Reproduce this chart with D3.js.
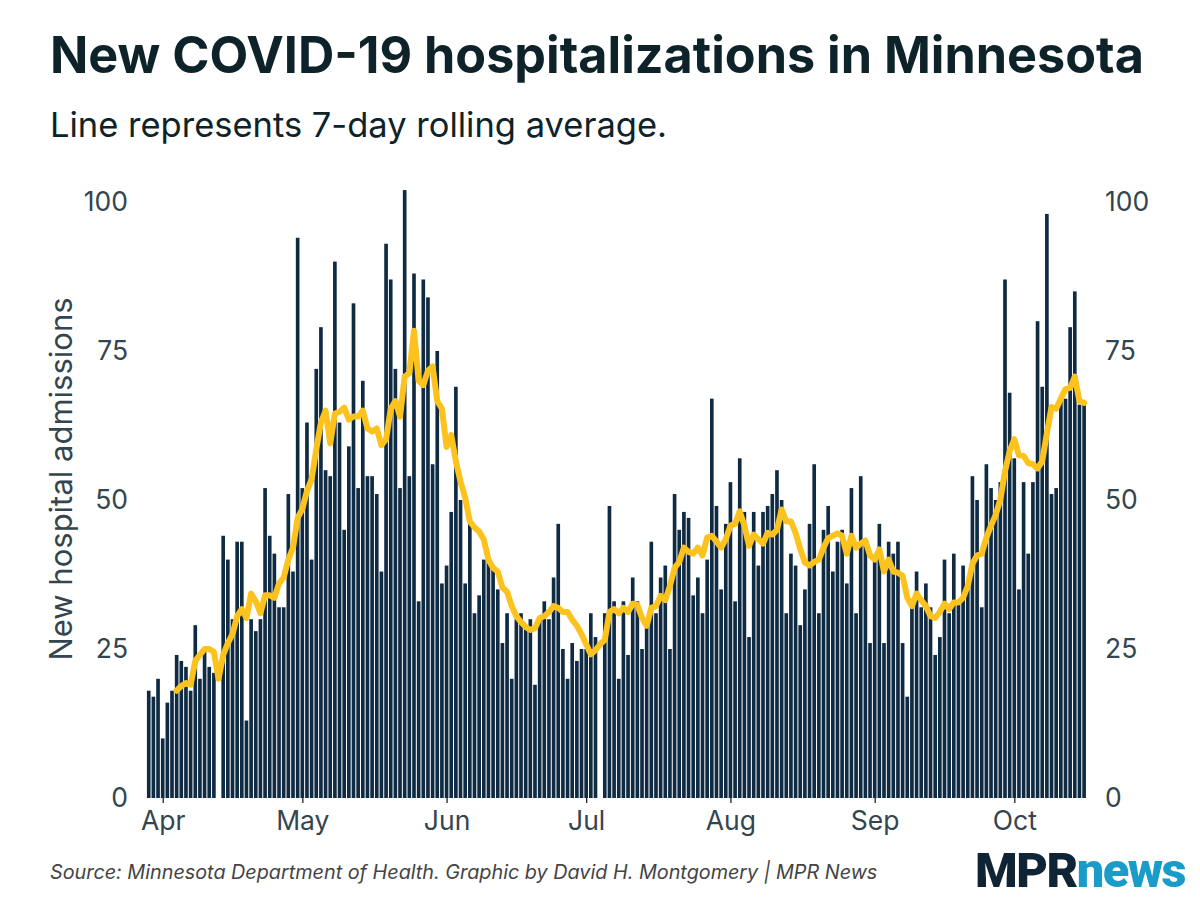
<!DOCTYPE html>
<html><head><meta charset="utf-8">
<script src="https://cdn.jsdelivr.net/npm/d3@7"></script>
<style>
body{margin:0;background:#fff;}
svg{display:block;}
</style></head><body>
<svg id="chart" width="1200" height="900"></svg>
<script>
// ---- data ----
const startDate = "2020-03-29";
const admissions = [
 18,17,20,10,16,18,24,23,22,18,29,20,25,22,21,null,
 44,40,30,43,43,13,30,28,30,52,44,41,32,32,51,38,
 94,52,63,40,72,79,55,54,90,63,45,59,83,52,70,54,
 54,51,38,93,87,72,52,102,54,88,33,87,84,56,75,36,
 39,48,69,50,36,46,31,34,40,40,39,35,26,31,20,30,
 31,29,30,19,30,33,30,37,46,25,20,26,23,25,25,31,
 27,null,31,49,33,20,33,24,37,33,25,29,43,31,37,39,
 25,51,45,48,47,34,37,31,40,67,49,35,46,53,33,57,
 48,27,48,39,48,49,51,55,50,31,41,39,29,35,46,56,
 31,45,49,38,43,45,36,52,31,54,43,26,40,46,26,43,
 41,43,26,17,32,38,32,36,32,24,27,40,31,41,33,39,
 35,54,50,32,56,52,50,53,87,68,57,35,53,41,53,80,
 69,98,51,52,67,67,79,85,66,66
];
const rollingAvg = [
 null,null,null,null,null,null,18,18.8,19.3,19,23,24,25,25,24.5,20,
 24,26,27.5,30.5,31.7,30.2,34.3,33,31,34,34,33.6,36,37,40,42,
 47,48.5,51.5,53.5,58.5,63,65,59.5,64.5,64.8,65.5,63.5,64,64,65,62,
 61.5,62,59.2,60.2,65.3,66.6,64,70.7,71.3,78.4,70,69.3,71.7,72.4,66.6,65.3,
 58.9,60.9,56.5,53.1,50.4,46.4,45.4,44.7,43.4,40,38.6,38,35.3,34.6,32.2,30.5,
 29.5,28.7,28.2,28.5,30.2,30.5,31.2,32.2,31.9,31.2,31.2,29.9,28.9,27.5,25.8,24.1,
 24.8,25.8,26.5,31.2,31.7,31,31.9,31.2,32.6,32.4,30.2,28.9,31.9,32.2,33.9,33.2,
 35.6,38.6,39.6,42,41.3,41,42,40.7,43.7,44,43,42,43.4,45.7,46,48.1,
 45.7,42.3,44.2,43.4,42.7,44.5,44.2,45,48.4,46.4,46.4,44.5,41.8,39.5,39,39.6,
 40,42,43.6,44,44.4,44,41,44,42,42.7,43.2,40.7,40,41.7,38,40,
 38,37.8,37.3,33.6,32.2,34.3,33.2,32.2,30.5,30.2,31.2,32.6,31.7,32.8,32.8,33.6,
 35.6,39.3,40.7,41,43.7,45.7,47.5,50.1,54.8,58.2,60.2,57.5,57.4,56.2,56,55.3,
 56.5,61.2,65.6,65.3,67,68.6,68.8,70.7,66.6,66.3
];
const monthTicks = ["2020-04-01","2020-05-01","2020-06-01","2020-07-01","2020-08-01","2020-09-01","2020-10-01"];
const monthLabels = ["Apr","May","Jun","Jul","Aug","Sep","Oct"];
const yTicks = [0,25,50,75,100];

const titleText = "New COVID-19 hospitalizations in Minnesota";
const subtitleText = "Line represents 7-day rolling average.";
const yAxisTitle = "New hospital admissions";
const sourceText = "Source: Minnesota Department of Health. Graphic by David H. Montgomery | MPR News";

// ---- build ----
const parse = d3.utcParse("%Y-%m-%d");
const t0 = parse(startDate);
const rows = admissions.map((v,i)=>({date:d3.utcDay.offset(t0,i), value:v, avg:rollingAvg[i]}));

const svg = d3.select("#chart");
const x = d3.scaleUtc()
  .domain([parse("2020-04-01"), parse("2020-10-01")])
  .range([162.7, 1014.3]);
const dayW = x(parse("2020-04-02")) - x(parse("2020-04-01"));
const y = d3.scaleLinear().domain([0,100]).range([798,202]);

const font = "Inter, 'Noto Sans', sans-serif";
const axisColor = "#33454f";

// title
svg.append("text").attr("x",50).attr("y",73)
  .attr("font-family",font).attr("font-weight",700).attr("font-size",50.3)
  .attr("fill","#0d2329").text(titleText);
svg.append("text").attr("x",50).attr("y",137)
  .attr("font-family",font).attr("font-weight",400).attr("font-size",34.5)
  .attr("fill","#0d2329").text(subtitleText);

// bars
svg.append("g").selectAll("rect")
  .data(rows.filter(d=>d.value!=null))
  .join("rect")
  .attr("x",d=>x(d.date)-dayW/2+0.5)
  .attr("width",dayW-1)
  .attr("y",d=>y(d.value))
  .attr("height",d=>y(0)-y(d.value))
  .attr("fill","#0f2a43");

// line
const line = d3.line()
  .defined(d=>d.avg!=null)
  .x(d=>x(d.date)).y(d=>y(d.avg))
  .curve(d3.curveLinear);
svg.append("path").datum(rows)
  .attr("d",line).attr("fill","none")
  .attr("stroke","#fcc31e").attr("stroke-width",6)
  .attr("stroke-linejoin","round").attr("stroke-linecap","round");

// x axis
const xAxis = d3.axisBottom(x)
  .tickValues(monthTicks.map(parse))
  .tickFormat((d,i)=>monthLabels[i])
  .tickSize(5).tickPadding(4);
const gx = svg.append("g").attr("transform","translate(0,798)").call(xAxis);
gx.select(".domain").remove();
gx.selectAll(".tick line").attr("stroke","#222").attr("stroke-width",1.3);
gx.selectAll(".tick text").attr("font-family",font).attr("font-size",26.5)
  .attr("fill",axisColor).attr("dy","0.85em");

// y axes
const yl = d3.axisLeft(y).tickValues(yTicks).tickSize(0).tickPadding(0);
const gyl = svg.append("g").attr("transform","translate(128,0)").call(yl);
gyl.select(".domain").remove();
gyl.selectAll(".tick text").attr("font-family",font).attr("font-size",26.5).attr("fill",axisColor);

const yr = d3.axisRight(y).tickValues(yTicks).tickSize(0).tickPadding(0);
const gyr = svg.append("g").attr("transform","translate(1105,0)").call(yr);
gyr.select(".domain").remove();
gyr.selectAll(".tick text").attr("font-family",font).attr("font-size",26.5).attr("fill",axisColor);

// y title
svg.append("text")
  .attr("transform","translate(72,479) rotate(-90)")
  .attr("text-anchor","middle")
  .attr("font-family",font).attr("font-size",31).attr("fill",axisColor)
  .text(yAxisTitle);

// source
svg.append("text").attr("x",50).attr("y",879)
  .attr("font-family",font).attr("font-style","italic").attr("font-size",19.8)
  .attr("fill","#444").text(sourceText);

// logo
const logo = svg.append("text").attr("x",975).attr("y",887)
  .attr("font-family","Roboto, 'Liberation Sans', sans-serif").attr("font-weight",900)
  .attr("font-size",48).attr("letter-spacing",-1.5)
  .attr("textLength",210).attr("lengthAdjust","spacingAndGlyphs");
logo.append("tspan").attr("fill","#0f2536").text("MPR");
logo.append("tspan").attr("fill","#1a9cc9").text("news");
</script>
</body></html>
